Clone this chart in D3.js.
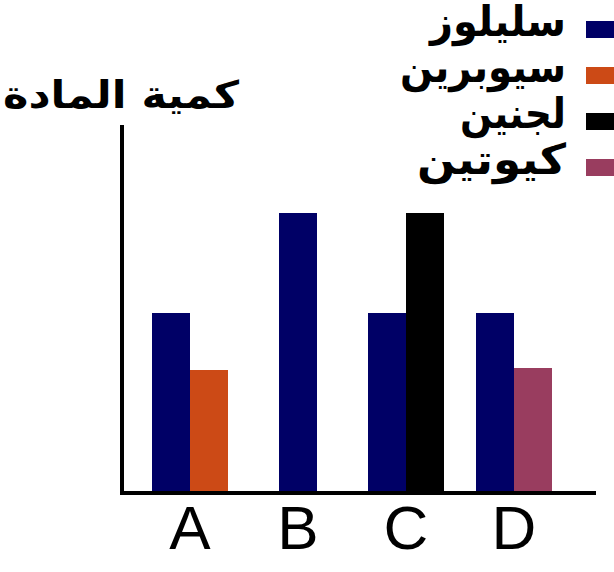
<!DOCTYPE html>
<html><head><meta charset="utf-8">
<script src="https://cdn.jsdelivr.net/npm/d3@7"></script>
<style>body{margin:0;background:#fff}svg{display:block}</style>
</head><body>
<script>
const categories = ["A","B","C","D"];
const seriesNames = ["سليلوز","سيوبرين","لجنين","كيوتين"];
const seriesColors = ["#000066","#cc4a16","#000000","#993d5f"];
const cellulose = [1.8, 2.8, 1.8, 1.8];
const suberin   = [1.23, 0, 0, 0];
const lignin    = [0, 0, 2.8, 0];
const cutin     = [0, 0, 0, 1.25];
const yLabel = "كمية المادة";
const yMax = 3.68;

const W = 614, H = 572;
const svg = d3.select("body").append("svg").attr("width", W).attr("height", H);

const x = d3.scaleBand().domain(categories).range([136, 568]);
const y = d3.scaleLinear().domain([0, yMax]).range([493, 125]);
const barW = 38;

const series = [cellulose, suberin, lignin, cutin];
const bars = [];
categories.forEach((c, i) => {
  const present = series.map((s, k) => ({k, v: s[i]})).filter(d => d.v > 0);
  const center = x(c) + x.bandwidth() / 2;
  const start = center - present.length * barW / 2;
  present.forEach((d, j) => bars.push({cat: c, k: d.k, v: d.v, x0: start + j * barW}));
});

svg.append("g").selectAll("rect").data(bars).join("rect")
  .attr("x", d => d.x0).attr("width", barW)
  .attr("y", d => y(d.v)).attr("height", d => y(0) - y(d.v))
  .attr("fill", d => seriesColors[d.k]);

// axes
svg.append("line").attr("x1", 122).attr("x2", 122).attr("y1", y(yMax)).attr("y2", y(0) + 2)
  .attr("stroke", "#000").attr("stroke-width", 4);
svg.append("line").attr("x1", 120).attr("x2", 596).attr("y1", y(0)).attr("y2", y(0))
  .attr("stroke", "#000").attr("stroke-width", 4);

// category labels
svg.append("g").selectAll("text").data(categories).join("text")
  .attr("x", d => x(d) + x.bandwidth() / 2).attr("y", 549)
  .attr("text-anchor", "middle")
  .attr("font-family", "Liberation Sans, Arial, sans-serif")
  .attr("font-size", 62).text(d => d);

// y label
svg.append("text").attr("x", 239).attr("y", 108).attr("text-anchor", "start")
  .attr("direction", "rtl")
  .attr("font-family", "DejaVu Sans, sans-serif").attr("font-weight", "bold")
  .attr("font-size", 38)
  .attr("textLength", 236).attr("lengthAdjust", "spacingAndGlyphs")
  .text(yLabel);

// legend
const legendWidths = [136, 166, 106, 149];
const lg = svg.append("g");
seriesNames.forEach((n, i) => {
  const yy = 29 + i * 46;
  lg.append("rect").attr("x", 586).attr("y", yy - 8).attr("width", 30).attr("height", 17)
    .attr("fill", seriesColors[i]);
  lg.append("text").attr("x", 566).attr("y", yy + 7).attr("text-anchor", "start")
    .attr("direction", "rtl")
    .attr("font-family", "DejaVu Sans, sans-serif").attr("font-weight", "bold")
    .attr("font-size", 42)
    .attr("textLength", legendWidths[i]).attr("lengthAdjust", "spacingAndGlyphs")
    .text(n);
});
</script>
</body></html>
